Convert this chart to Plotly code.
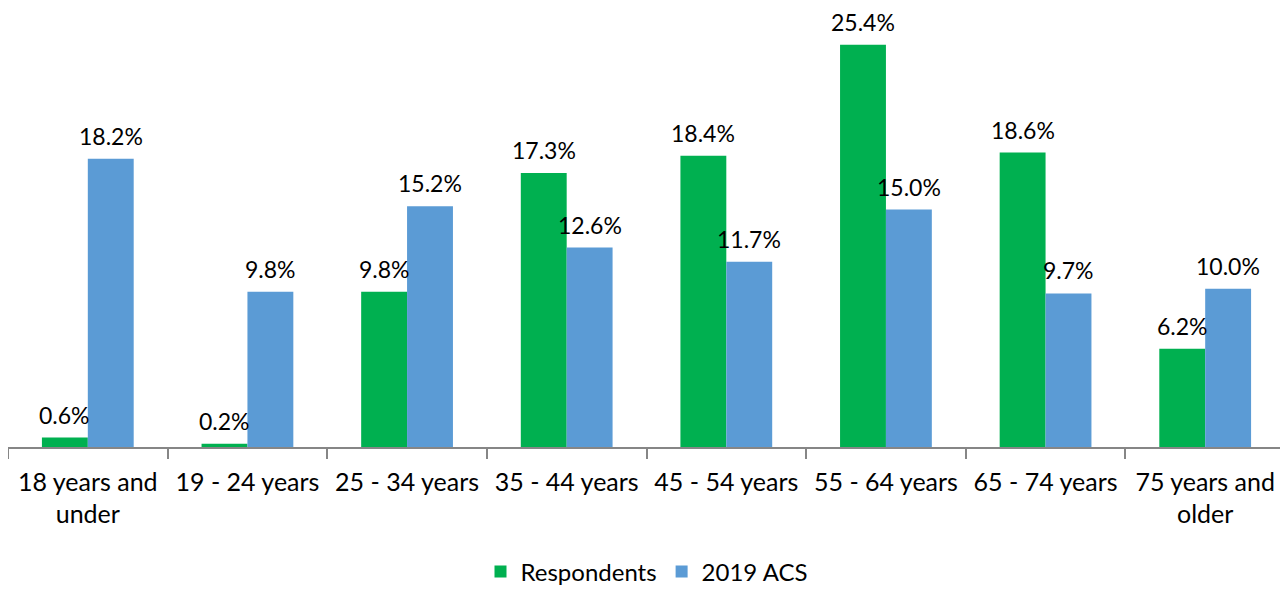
import plotly.graph_objects as go

categories = ["18 years and<br>under", "19 - 24 years", "25 - 34 years", "35 - 44 years",
              "45 - 54 years", "55 - 64 years", "65 - 74 years", "75 years and<br>older"]
respondents = [0.6, 0.2, 9.8, 17.3, 18.4, 25.4, 18.6, 6.2]
acs_2019 = [18.2, 9.8, 15.2, 12.6, 11.7, 15.0, 9.7, 10.0]

FONT = "Lato"
W, H = 1280, 581
ML, MR, MT, MB = 0, 3, 12, 142
BARGAP = 0.425

fig = go.Figure()
series = [("Respondents", respondents, "#00B050"), ("2019 ACS", acs_2019, "#5B9BD5")]
for name, vals, color in series:
    fig.add_trace(go.Bar(
        x=categories, y=vals, name=name,
        marker=dict(color=color, line=dict(width=0)),
        cliponaxis=False,
    ))

# data labels above each bar (positioned from data values)
plot_w = W - ML - MR
cat_w = plot_w / len(categories)
bar_w = cat_w * (1 - BARGAP) / len(series)
for k, (name, vals, color) in enumerate(series):
    shift = (k - (len(series) - 1) / 2) * bar_w
    for c, v in zip(categories, vals):
        fig.add_annotation(
            x=c, y=v, xref="x", yref="y", text=f"{v:.1f}%",
            showarrow=False, xanchor="center", yanchor="bottom",
            xshift=shift, yshift=8, borderpad=0,
            font=dict(family=FONT, size=23, color="#000000"),
        )

fig.update_layout(
    width=W, height=H,
    margin=dict(l=ML, r=MR, t=MT, b=MB, autoexpand=False),
    paper_bgcolor="white", plot_bgcolor="white",
    barmode="group", bargap=BARGAP, bargroupgap=0,
    font=dict(family=FONT, size=24, color="#000000"),
    showlegend=True,
    legend=dict(orientation="h", x=0.5, xanchor="center", y=-0.2927, yanchor="middle",
                font=dict(family=FONT, size=24), traceorder="normal"),
)
fig.update_xaxes(
    automargin=False,
    showline=True, linecolor="#868686", linewidth=1.5,
    ticks="outside", tickson="boundaries", ticklen=10, tickcolor="#868686", tickwidth=1.5,
    tickfont=dict(family=FONT, size=25, color="#000000"),
    ticklabelstandoff=12,
    showgrid=False,
)
fig.update_yaxes(visible=False, range=[0, 26.97], showgrid=False)
fig.write_html("out.html")
